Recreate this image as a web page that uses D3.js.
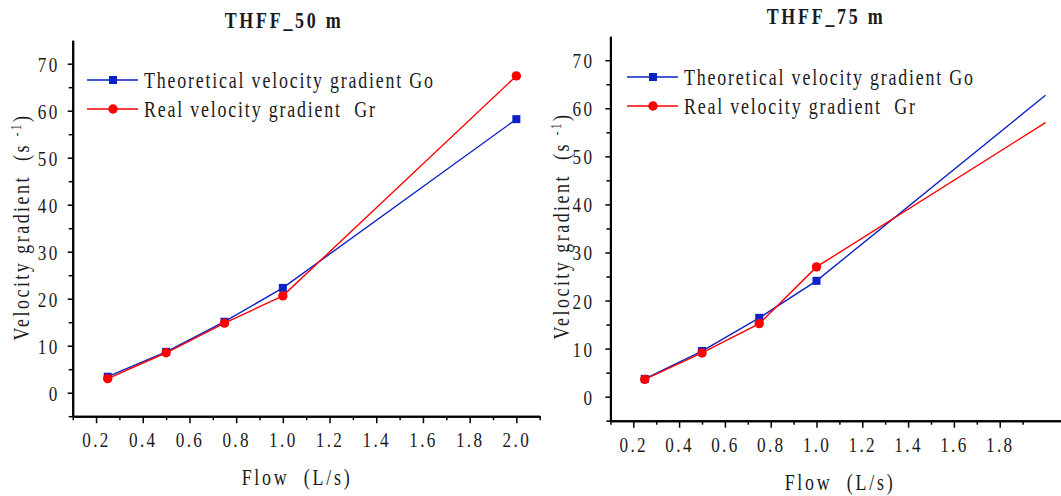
<!DOCTYPE html>
<html>
<head>
  <meta charset="utf-8">
  <title>THFF velocity gradient</title>
  <script src="https://d3js.org/d3.v7.min.js"></script>
  <style>
    body { margin: 0; background: #fff; }
    text { font-family: "Liberation Serif", "Times New Roman", serif; fill: #1a1a1a; white-space: pre; }
  </style>
</head>
<body>
<script>
// values
var flow = [0.25, 0.5, 0.75, 1.0, 2.0];
var go50 = [3.4, 8.7, 15.1, 22.3, 58.2];
var gr50 = [3.0, 8.5, 14.8, 20.6, 67.4];
var go75 = [3.7, 9.5, 16.4, 24.1, 62.7];
var gr75 = [3.6, 9.1, 15.2, 27.0, 57.0];

var yTicks = [0, 10, 20, 30, 40, 50, 60, 70];
var yMinor = [-5, 5, 15, 25, 35, 45, 55, 65];
var xTicks50 = [0.2, 0.4, 0.6, 0.8, 1.0, 1.2, 1.4, 1.6, 1.8, 2.0];
var xMinor50 = [0.1, 0.3, 0.5, 0.7, 0.9, 1.1, 1.3, 1.5, 1.7, 1.9, 2.1];
var xTicks75 = [0.2, 0.4, 0.6, 0.8, 1.0, 1.2, 1.4, 1.6, 1.8];
var xMinor75 = [0.1, 0.3, 0.5, 0.7, 0.9, 1.1, 1.3, 1.5, 1.7, 1.9];

var titles = ["THFF_50 m", "THFF_75 m"];
var seriesNames = ["Theoretical velocity gradient Go", "Real velocity gradient  Gr"];
var xTitle = "Flow  (L/s)";

var blue = "#0b22c4", red = "#ff0000";
var sx = 0.78; // the glyphs in the picture are narrow

var svg = d3.select("body").append("svg").attr("width", 1061).attr("height", 496);

// text helper: squeezed horizontally, optionally rotated
function label(g, x, y, str, size, opts) {
  opts = opts || {};
  var t = g.append("text")
    .attr("transform", "translate(" + x + "," + y + ")" + (opts.rot ? " rotate(" + opts.rot + ")" : "") + " scale(" + sx + ",1)")
    .attr("text-anchor", opts.anchor || "start")
    .style("font-size", size + "px")
    .style("letter-spacing", (opts.ls || 0) + "px")
    .style("font-weight", opts.bold ? "bold" : "normal");
  t.text(str);
  return t;
}

function panel(o) {
  var x = d3.scaleLinear().domain([0.1, 2.1]).range(o.xr);
  var y = d3.scaleLinear().domain([-5, 75]).range(o.yr);
  var g = svg.append("g");
  var x0 = o.xr[0], y0 = o.yr[0];

  // x axis (minor then major)
  g.append("g").attr("transform", "translate(0," + y0 + ")")
    .call(d3.axisBottom(x).tickValues(o.xMinor).tickSize(4).tickSizeOuter(0).tickFormat(""));
  var ax = g.append("g").attr("transform", "translate(0," + y0 + ")")
    .call(d3.axisBottom(x).tickValues(o.xTicks).tickSize(7).tickSizeOuter(0).tickFormat(d3.format(".1f")));
  ax.selectAll("text").attr("y", 31).attr("dy", null)
    .attr("transform", "scale(" + sx + ",1)")
    .style("font-size", "22px").style("letter-spacing", "3px");

  // y axis
  g.append("g").attr("transform", "translate(" + x0 + ",0)")
    .call(d3.axisLeft(y).tickValues(yMinor).tickSize(4).tickSizeOuter(0).tickFormat(""));
  var ay = g.append("g").attr("transform", "translate(" + x0 + ",0)")
    .call(d3.axisLeft(y).tickValues(yTicks).tickSize(5).tickSizeOuter(0));
  ay.selectAll("text").attr("x", -o.yPad / sx).attr("dy", "0.34em")
    .attr("transform", "scale(" + sx + ",1)")
    .style("font-size", "22px").style("letter-spacing", "3px");

  g.selectAll(".domain").attr("stroke", "#000").attr("stroke-width", 2);
  g.selectAll(".tick line").attr("stroke", "#000").attr("stroke-width", 1.5);
  g.selectAll(".tick text").attr("fill", "#1a1a1a").attr("font-family", null);

  // series
  var series = [{v: o.go, c: blue, m: "square"}, {v: o.gr, c: red, m: "circle"}];
  var line = d3.line().x(function(d) { return x(d[0]); }).y(function(d) { return y(d[1]); });
  series.forEach(function(s) {
    var pts = flow.map(function(f, i) { return [f, s.v[i]]; });
    g.append("path").datum(pts).attr("d", line)
      .attr("fill", "none").attr("stroke", s.c).attr("stroke-width", 1.4);
    var mp = pts.slice(0, o.marked);
    if (s.m === "square") {
      g.selectAll(null).data(mp).enter().append("rect")
        .attr("x", function(d) { return x(d[0]) - 4; })
        .attr("y", function(d) { return y(d[1]) - 4; })
        .attr("width", 8).attr("height", 8).attr("fill", s.c);
    } else {
      g.selectAll(null).data(mp).enter().append("circle")
        .attr("cx", function(d) { return x(d[0]); })
        .attr("cy", function(d) { return y(d[1]); })
        .attr("r", 4.7).attr("fill", s.c);
    }
  });

  // legend
  series.forEach(function(s, i) {
    var ly = o.ly + i * 29;
    g.append("line").attr("x1", o.lx).attr("x2", o.lx + 51).attr("y1", ly).attr("y2", ly)
      .attr("stroke", s.c).attr("stroke-width", 1.4);
    if (s.m === "square") {
      g.append("rect").attr("x", o.lx + 22).attr("y", ly - 4).attr("width", 8).attr("height", 8).attr("fill", s.c);
    } else {
      g.append("circle").attr("cx", o.lx + 26).attr("cy", ly).attr("r", 4.7).attr("fill", s.c);
    }
    label(g, o.lx + 57, ly + 8, seriesNames[i], 23, {ls: 2.3});
  });

  // titles
  label(g, o.tx, o.ty, o.title, 23, {anchor: "middle", bold: true, ls: 3.5});
  label(g, o.fx, o.fy, xTitle, 23, {anchor: "middle", ls: 3.5});

  var yl = label(g, o.vx, o.vy, "", 23, {anchor: "middle", rot: -90, ls: 3.2});
  yl.append("tspan").text("Velocity gradient  (s ");
  yl.append("tspan").attr("dy", -8).style("font-size", "14px").text("-1");
  yl.append("tspan").attr("dy", 8).text(")");
}

panel({
  xr: [72.7, 539.7], yr: [416.2, 40.2], xTicks: xTicks50, xMinor: xMinor50,
  go: go50, gr: gr50, marked: 5, yPad: 13,
  lx: 87, ly: 80, title: titles[0], tx: 284, ty: 28,
  fx: 297, fy: 485, vx: 29, vy: 227
});
panel({
  xr: [610.4, 1068.4], yr: [420.7, 36.2], xTicks: xTicks75, xMinor: xMinor75,
  go: go75, gr: gr75, marked: 4, yPad: 16,
  lx: 627, ly: 77, title: titles[1], tx: 826, ty: 24,
  fx: 840, fy: 490, vx: 569, vy: 226
});
</script>
</body>
</html>
